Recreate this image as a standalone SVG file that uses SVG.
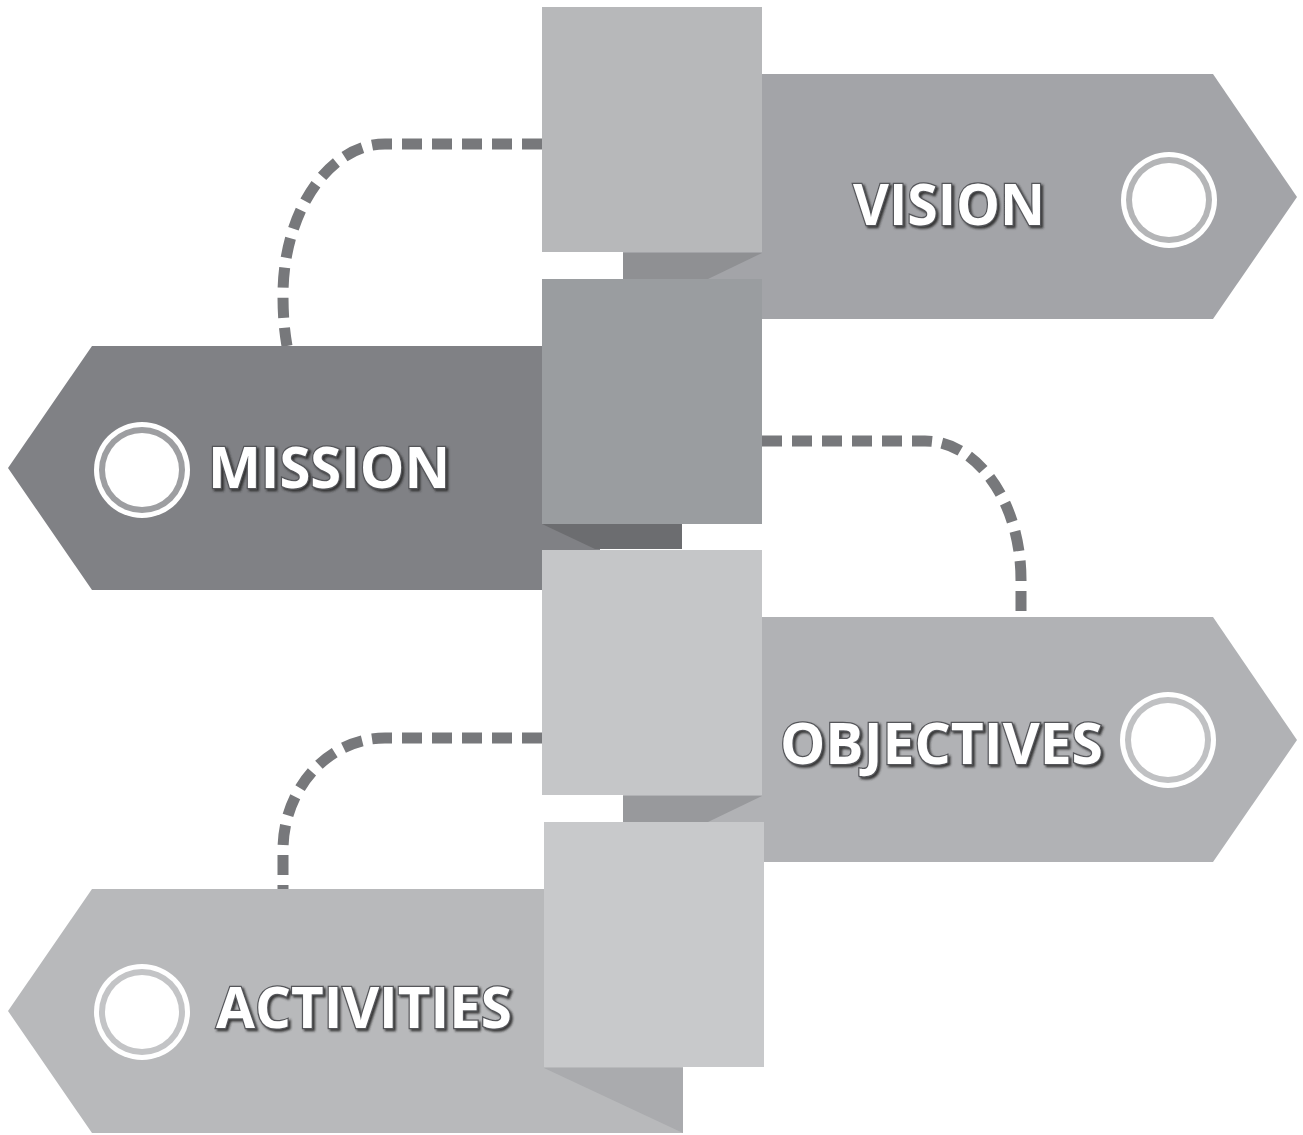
<svg xmlns="http://www.w3.org/2000/svg" width="1303" height="1135" viewBox="0 0 1303 1135">
<defs>
<style>
.dash{fill:none;stroke:#77787b;stroke-width:11;stroke-dasharray:20 10}
.lbl{font-family:"Open Sans","Liberation Sans",sans-serif;font-weight:700;font-size:58px;fill:#fff;stroke:#55565a;stroke-width:2.5;paint-order:stroke;filter:url(#sh)}
.ringW{fill:#fff}
</style>
<filter id="sh" x="-10%" y="-30%" width="120%" height="160%">
<feDropShadow dx="2" dy="2" stdDeviation="1.2" flood-color="#2a2a2c" flood-opacity="0.9"/>
</filter>
</defs>
<rect width="1303" height="1135" fill="#fff"/>
<g id="connectors">
<path class="dash" d="M542,144 H385 C329,144 283,212 283,295 C283,320 285,334 287,346"/>
<path class="dash" d="M762,441 H925 C978,441 1021,503 1021,580 V617"/>
<path class="dash" d="M542,738 H385 C329,738 283,788 283,850 V889"/>
</g>
<g id="vision">
<polygon points="623,74 1213,74 1297,197 1213,319 623,319" fill="#a3a4a8"/>
<polygon points="623,253 762,253 708,279 623,279" fill="#8f9093"/>
<rect x="542" y="7" width="220" height="245" fill="#b7b8ba"/>
<circle cx="1169" cy="200" r="48" class="ringW"/>
<circle cx="1169" cy="200" r="43" fill="#b4b5b7"/>
<circle cx="1169" cy="200" r="37" class="ringW"/>
<text class="lbl" x="853" y="225" textLength="192" lengthAdjust="spacingAndGlyphs">VISION</text>
</g>
<g id="mission">
<polygon points="8,468 92,346 600,346 600,590 92,590" fill="#808185"/>
<polygon points="542,524 682,524 682,549 595,549" fill="#6c6d70"/>
<rect x="542" y="279" width="220" height="245" fill="#9a9da0"/>
<circle cx="142" cy="470" r="48" class="ringW"/>
<circle cx="142" cy="470" r="43" fill="#9d9ea1"/>
<circle cx="142" cy="470" r="37" class="ringW"/>
<text class="lbl" x="208" y="488" textLength="242" lengthAdjust="spacingAndGlyphs">MISSION</text>
</g>
<g id="objectives">
<polygon points="623,617 1213,617 1297,740 1213,862 623,862" fill="#b1b2b5"/>
<polygon points="623,796 762,796 708,822 623,822" fill="#98999c"/>
<rect x="542" y="550" width="220" height="245" fill="#c5c6c8"/>
<circle cx="1168" cy="740" r="48" class="ringW"/>
<circle cx="1168" cy="740" r="43" fill="#c0c1c3"/>
<circle cx="1168" cy="740" r="37" class="ringW"/>
<text class="lbl" x="780" y="764" textLength="323" lengthAdjust="spacingAndGlyphs">OBJECTIVES</text>
</g>
<g id="activities">
<polygon points="8,1011 92,889 683,889 683,1133 92,1133" fill="#b8b9bb"/>
<polygon points="544,1068 683,1068 683,1133" fill="#aaabae"/>
<rect x="544" y="822" width="220" height="245" fill="#c8c9cb"/>
<circle cx="142" cy="1012" r="48" class="ringW"/>
<circle cx="142" cy="1012" r="43" fill="#c3c4c6"/>
<circle cx="142" cy="1012" r="37" class="ringW"/>
<text class="lbl" x="216" y="1028" textLength="296" lengthAdjust="spacingAndGlyphs">ACTIVITIES</text>
</g>
</svg>
